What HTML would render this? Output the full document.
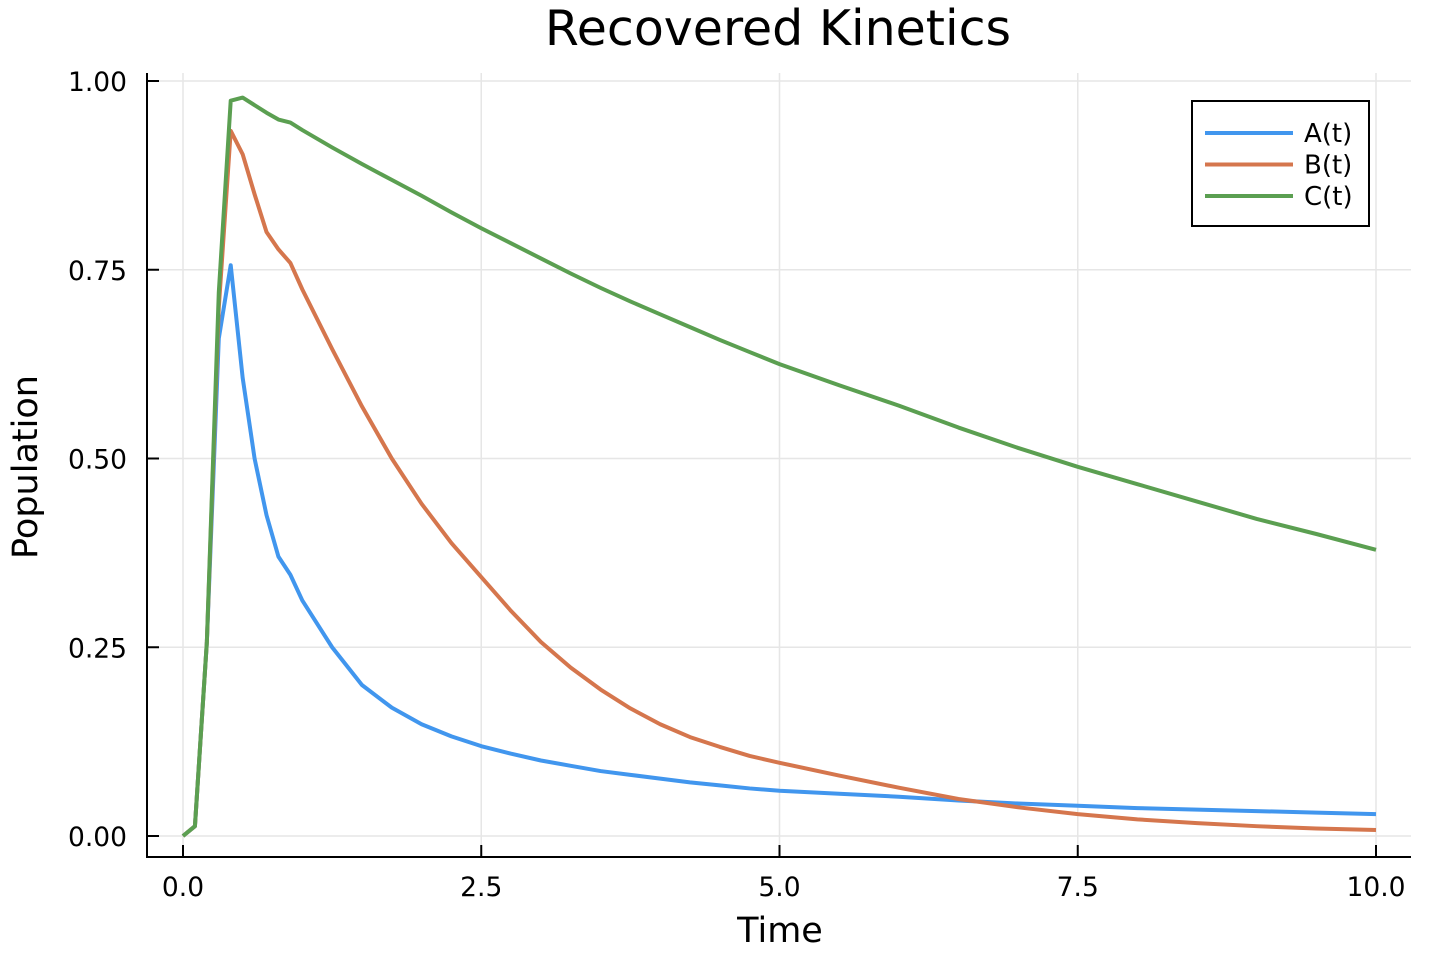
<!DOCTYPE html>
<html><head><meta charset="utf-8"><style>
body{margin:0;background:#fff;}
svg text{font-family:"DejaVu Sans","Liberation Sans",sans-serif;fill:#000;}
</style></head><body>
<svg id="chart" width="1438" height="958" xmlns="http://www.w3.org/2000/svg">
<rect width="1438" height="958" fill="#fff"/>
<g id="grid"></g>
<g id="series"></g>
<g id="axes"></g>
<text x="778" y="45" font-size="49" text-anchor="middle">Recovered Kinetics</text>
<text x="780" y="942" font-size="35" text-anchor="middle">Time</text>
<text transform="translate(37,467) rotate(-90)" font-size="35" text-anchor="middle">Population</text>
<g id="legend"></g>
</svg>
<script>
const times = [0,0.1,0.2,0.3,0.4,0.5,0.6,0.7,0.8,0.9,1,1.25,1.5,1.75,2,2.25,2.5,2.75,3,3.25,3.5,3.75,4,4.25,4.5,4.75,5,5.5,6,6.5,7,7.5,8,8.5,9,9.5,10];
const seriesA = [0,0.013,0.257,0.659,0.756,0.607,0.50,0.425,0.370,0.346,0.312,0.250,0.200,0.170,0.148,0.132,0.119,0.109,0.100,0.093,0.086,0.081,0.076,0.071,0.067,0.063,0.060,0.056,0.052,0.047,0.043,0.040,0.037,0.035,0.033,0.031,0.029];
const seriesB = [0,0.013,0.257,0.70,0.934,0.903,0.85,0.80,0.777,0.759,0.724,0.645,0.569,0.500,0.440,0.388,0.343,0.298,0.257,0.223,0.194,0.169,0.148,0.131,0.118,0.106,0.097,0.080,0.064,0.049,0.038,0.029,0.022,0.017,0.013,0.010,0.008];
const seriesC = [0,0.013,0.257,0.72,0.974,0.978,0.968,0.958,0.949,0.945,0.935,0.912,0.890,0.869,0.848,0.826,0.805,0.785,0.765,0.745,0.726,0.708,0.691,0.674,0.657,0.641,0.625,0.597,0.570,0.541,0.514,0.489,0.466,0.443,0.420,0.400,0.379];
const seriesNames = ["A(t)","B(t)","C(t)"];
const seriesColors = ["#4196ee","#d5764d","#5b9f51"];
const xTicks = [0,2.5,5,7.5,10];
const xTickLabels = ["0.0","2.5","5.0","7.5","10.0"];
const yTicks = [0,0.25,0.5,0.75,1];
const yTickLabels = ["0.00","0.25","0.50","0.75","1.00"];

const NS="http://www.w3.org/2000/svg";
const L=147,R=1411,T=73,B=857;
const xs=t=>183+(t-0)*(1376-183)/10;
const ys=v=>836-v*(836-81);
function mk(tag,parent){const e=document.createElementNS(NS,tag);document.getElementById(parent).appendChild(e);return e;}
xTicks.forEach((t,i)=>{
  const g=mk('line','grid');
  
  
  g.setAttribute('x1',xs(t));g.setAttribute('x2',xs(t));g.setAttribute('y1',T);g.setAttribute('y2',B);
  g.setAttribute('stroke','#e6e6e6');g.setAttribute('stroke-width','1.5');
  const k=mk('line','axes');
  
  
  k.setAttribute('x1',xs(t));k.setAttribute('x2',xs(t));k.setAttribute('y1',B);k.setAttribute('y2',B-12);
  k.setAttribute('stroke','#000');k.setAttribute('stroke-width','2');
  const tx=mk('text','axes');
  
  
  tx.setAttribute('x',xs(t));tx.setAttribute('y',896);tx.setAttribute('font-size','26.5');tx.setAttribute('text-anchor','middle');
  tx.textContent=xTickLabels[i];
});
yTicks.forEach((v,i)=>{
  const g=mk('line','grid');
  
  
  g.setAttribute('x1',L);g.setAttribute('x2',R);g.setAttribute('y1',ys(v));g.setAttribute('y2',ys(v));
  g.setAttribute('stroke','#e6e6e6');g.setAttribute('stroke-width','1.5');
  const k=mk('line','axes');
  
  
  k.setAttribute('x1',L);k.setAttribute('x2',L+12);k.setAttribute('y1',ys(v));k.setAttribute('y2',ys(v));
  k.setAttribute('stroke','#000');k.setAttribute('stroke-width','2');
  const tx=mk('text','axes');
  
  
  tx.setAttribute('x',127);tx.setAttribute('y',ys(v)+10);tx.setAttribute('font-size','26.5');tx.setAttribute('text-anchor','end');
  tx.textContent=yTickLabels[i];
});
const ax=mk('path','axes');


ax.setAttribute('d',`M${L},${T} V${B} H${R}`);ax.setAttribute('fill','none');ax.setAttribute('stroke','#000');ax.setAttribute('stroke-width','2');
[seriesA,seriesB,seriesC].forEach((s,i)=>{
  const p=mk('polyline','series');
  
  
  p.setAttribute('points',s.map((v,j)=>xs(times[j])+','+ys(v)).join(' '));
  p.setAttribute('fill','none');p.setAttribute('stroke',seriesColors[i]);p.setAttribute('stroke-width','4');p.setAttribute('stroke-linejoin','round');
});
const box=mk('rect','legend');


box.setAttribute('x',1192);box.setAttribute('y',101);box.setAttribute('width',177);box.setAttribute('height',125);
box.setAttribute('fill','#fff');box.setAttribute('stroke','#000');box.setAttribute('stroke-width','2');
seriesNames.forEach((n,i)=>{
  const y=133+i*31.5;
  const l=mk('line','legend');
  
  
  l.setAttribute('x1',1205);l.setAttribute('x2',1293);l.setAttribute('y1',y);l.setAttribute('y2',y);
  l.setAttribute('stroke',seriesColors[i]);l.setAttribute('stroke-width','4');
  const t=mk('text','legend');
  
  
  t.setAttribute('x',1304);t.setAttribute('y',y+9);t.setAttribute('font-size','26');
  t.textContent=n;
});
</script>
</body></html>
